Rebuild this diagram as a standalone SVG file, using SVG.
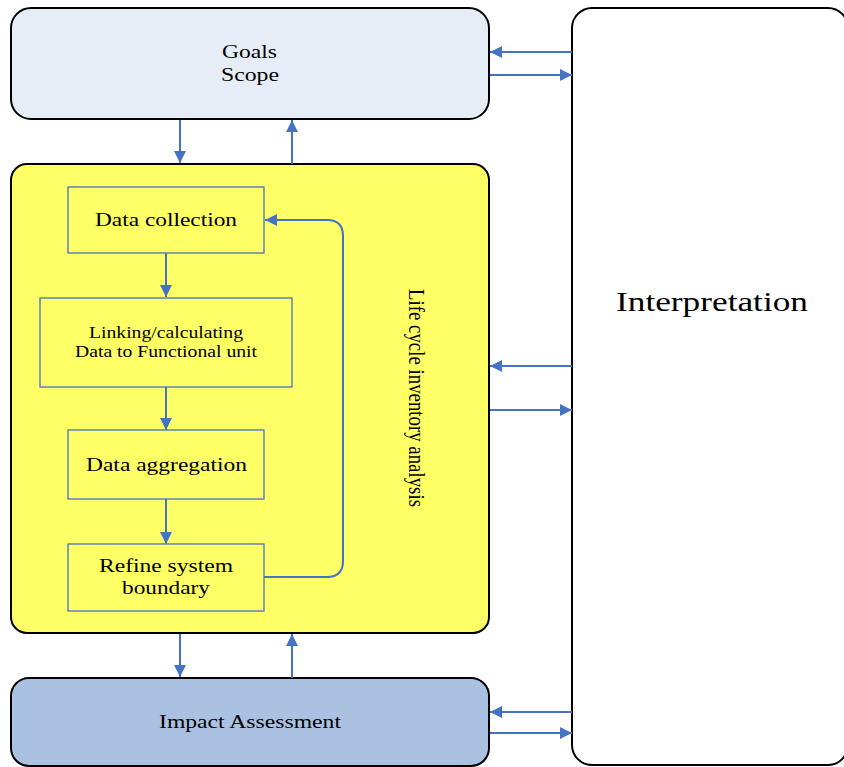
<svg xmlns="http://www.w3.org/2000/svg" width="844" height="767" viewBox="0 0 844 767">
<style>
.big{stroke:#000;stroke-width:2}
.inner{fill:#FFFF66;stroke:#4472C4;stroke-width:1.3}
.t{fill:#000;text-anchor:middle}
.c{fill:none;stroke:#4472C4;stroke-width:2}
</style>
<defs>
<marker id="ah" viewBox="0 0 10 10" refX="10" refY="5" markerWidth="12" markerHeight="12" markerUnits="userSpaceOnUse" orient="auto">
<path d="M0,0 L10,5 L0,10 z" fill="#4472C4"/>
</marker>
</defs>
<rect width="844" height="767" fill="#fff"/>
<g font-family="'Liberation Serif', 'Times New Roman', serif">
<g id="interpretation">
<rect class="big" x="572" y="8" width="276" height="757" rx="20" fill="#fff"/>
<text class="t" x="712" y="311" font-size="28" textLength="192" lengthAdjust="spacingAndGlyphs">Interpretation</text>
</g>
<g id="goals">
<rect class="big" x="11" y="8" width="478" height="111" rx="20" fill="#E6EDF7"/>
<text class="t" x="249.5" y="58" font-size="19" textLength="55" lengthAdjust="spacingAndGlyphs">Goals</text>
<text class="t" x="250" y="81" font-size="19" textLength="58" lengthAdjust="spacingAndGlyphs">Scope</text>
</g>
<g id="lci">
<rect class="big" x="11" y="164" width="478" height="469" rx="16" fill="#FFFF66"/>
<text class="t" font-size="19" transform="translate(409,398) scale(1.25,1) rotate(90)" textLength="218" lengthAdjust="spacingAndGlyphs">Life cycle inventory analysis</text>
</g>
<g id="impact">
<rect class="big" x="11" y="678" width="478" height="88" rx="18" fill="#ABC1E2"/>
<text class="t" x="250" y="728" font-size="19" textLength="182" lengthAdjust="spacingAndGlyphs">Impact Assessment</text>
</g>
<g id="data-collection">
<rect class="inner" x="68" y="187" width="196" height="66"/>
<text class="t" x="166" y="226" font-size="19.5" textLength="142" lengthAdjust="spacingAndGlyphs">Data collection</text>
</g>
<g id="linking">
<rect class="inner" x="40" y="298" width="252" height="89"/>
<text class="t" x="166" y="338" font-size="16" textLength="154" lengthAdjust="spacingAndGlyphs">Linking/calculating</text>
<text class="t" x="166" y="357" font-size="16" textLength="182" lengthAdjust="spacingAndGlyphs">Data to Functional unit</text>
</g>
<g id="data-aggregation">
<rect class="inner" x="68" y="430" width="196" height="69"/>
<text class="t" x="166.5" y="471" font-size="19.5" textLength="161" lengthAdjust="spacingAndGlyphs">Data aggregation</text>
</g>
<g id="refine">
<rect class="inner" x="68" y="544" width="196" height="67"/>
<text class="t" x="166" y="572" font-size="19.5" textLength="134" lengthAdjust="spacingAndGlyphs">Refine system</text>
<text class="t" x="166" y="594" font-size="19.5" textLength="88" lengthAdjust="spacingAndGlyphs">boundary</text>
</g>
</g>
<g id="connectors">
<line class="c" x1="572" y1="52" x2="490" y2="52" marker-end="url(#ah)"/>
<line class="c" x1="490" y1="75" x2="572" y2="75" marker-end="url(#ah)"/>
<line class="c" x1="180" y1="120" x2="180" y2="163" marker-end="url(#ah)"/>
<line class="c" x1="292" y1="164" x2="292" y2="120" marker-end="url(#ah)"/>
<line class="c" x1="572" y1="366" x2="490" y2="366" marker-end="url(#ah)"/>
<line class="c" x1="490" y1="410" x2="572" y2="410" marker-end="url(#ah)"/>
<line class="c" x1="180" y1="634" x2="180" y2="677" marker-end="url(#ah)"/>
<line class="c" x1="292" y1="678" x2="292" y2="634" marker-end="url(#ah)"/>
<line class="c" x1="572" y1="712" x2="490" y2="712" marker-end="url(#ah)"/>
<line class="c" x1="490" y1="733" x2="572" y2="733" marker-end="url(#ah)"/>
<line class="c" x1="166" y1="253" x2="166" y2="297" marker-end="url(#ah)"/>
<line class="c" x1="166" y1="387" x2="166" y2="430" marker-end="url(#ah)"/>
<line class="c" x1="166" y1="499" x2="166" y2="544" marker-end="url(#ah)"/>
<path class="c" d="M264,577 H327 Q343,577 343,561 V236 Q343,220 327,220 H265" marker-end="url(#ah)"/>
</g>
</svg>
